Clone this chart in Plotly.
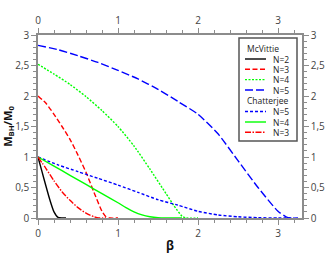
import plotly.graph_objects as go

# McVittie curves
mcv_n2_beta = [0, 0.05, 0.10, 0.15, 0.20, 0.25, 0.30, 0.35]
mcv_n2_m = [1.0, 0.76, 0.52, 0.29, 0.10, 0.01, 0.0, 0.0]

mcv_n3_beta = [0, 0.1, 0.2, 0.3, 0.4, 0.5, 0.6, 0.7, 0.8, 0.85, 0.9, 1.0]
mcv_n3_m = [2.0, 1.88, 1.70, 1.50, 1.29, 1.03, 0.75, 0.42, 0.11, 0.02, 0.0, 0.0]

mcv_n4_beta = [0, 0.2, 0.4, 0.6, 0.8, 1.0, 1.2, 1.4, 1.6, 1.7, 1.8, 1.85, 2.0]
mcv_n4_m = [2.52, 2.36, 2.19, 1.99, 1.76, 1.50, 1.18, 0.80, 0.40, 0.20, 0.03, 0.0, 0.0]

mcv_n5_beta = [0, 0.25, 0.5, 0.75, 1.0, 1.25, 1.5, 1.75, 2.0, 2.25, 2.5, 2.75, 3.0, 3.1, 3.15, 3.25]
mcv_n5_m = [2.83, 2.76, 2.66, 2.55, 2.42, 2.28, 2.11, 1.91, 1.70, 1.38, 0.94, 0.50, 0.11, 0.02, 0.0, 0.0]

# Chatterjee curves
cha_n5_beta = [0, 0.25, 0.5, 0.75, 1.0, 1.25, 1.5, 1.75, 2.0, 2.25, 2.5, 2.75, 3.0, 3.2]
cha_n5_m = [1.0, 0.87, 0.76, 0.65, 0.54, 0.42, 0.30, 0.21, 0.11, 0.05, 0.02, 0.005, 0.0, 0.0]

cha_n4_beta = [0, 0.2, 0.4, 0.6, 0.8, 1.0, 1.1, 1.2, 1.3, 1.4, 1.5, 1.6, 1.8]
cha_n4_m = [1.0, 0.85, 0.70, 0.55, 0.40, 0.25, 0.17, 0.10, 0.05, 0.02, 0.005, 0.0, 0.0]

cha_n3_beta = [0, 0.1, 0.2, 0.3, 0.4, 0.5, 0.6, 0.7, 0.76, 0.85]
cha_n3_m = [1.0, 0.81, 0.61, 0.43, 0.29, 0.17, 0.08, 0.02, 0.0, 0.0]

x_ticks = [0, 1, 2, 3]
y_ticks = [0, 0.5, 1, 1.5, 2, 2.5, 3]

FONT = "Open Sans"
AX_COLOR = "#8c8c8c"
TXT = "#444444"
GREEN = "#00ff00"

DASH_RED = "5px,2.5px"
DASH_DOT = "2px,1.5px"
DASH_LONG = "8px,3px"
DASH_SHORT = "3px,2px"
DASH_DASHDOT = "6px,1.5px,1.5px,1.5px"

series = [
    # (x, y, label, color, dash, group header)
    (mcv_n2_beta, mcv_n2_m, "N=2", "black", "solid", "McVittie"),
    (mcv_n3_beta, mcv_n3_m, "N=3", "red", DASH_RED, None),
    (mcv_n4_beta, mcv_n4_m, "N=4", GREEN, DASH_DOT, None),
    (mcv_n5_beta, mcv_n5_m, "N=5", "blue", DASH_LONG, None),
    (cha_n5_beta, cha_n5_m, "N=5", "blue", DASH_SHORT, "Chatterjee"),
    (cha_n4_beta, cha_n4_m, "N=4", GREEN, "solid", None),
    (cha_n3_beta, cha_n3_m, "N=3", "red", DASH_DASHDOT, None),
]

fig = go.Figure()
for x, y, name, color, dash, _ in series:
    fig.add_trace(go.Scatter(x=x, y=y, mode="lines", name=name, showlegend=False,
                             line=dict(color=color, dash=dash, width=1.4,
                                       shape="spline", smoothing=0.6)))

XR = [0, 3.3]
YR = [0, 3.0]

# plot area in pixels
L, R, T, B = 38, 34, 35, 36
W, H = 336, 254
PW, PH = W - L - R, H - T - B

def px(xp):
    return (xp - L) / PW

def py(yp):
    return (H - B - yp) / PH

axis_common = dict(
    showgrid=False, zeroline=False, showline=True, linecolor=AX_COLOR, linewidth=1.5,
    ticks="outside", ticklen=5, tickwidth=1, tickcolor=AX_COLOR, automargin=False,
    tickfont=dict(size=10, color=TXT, family=FONT),
)

# manual legend
shapes = [dict(type="rect", xref="paper", yref="paper",
               x0=px(239), x1=px(297), y0=py(141), y1=py(38),
               line=dict(color="#555555", width=1.5), fillcolor="white", layer="above")]
annotations = []
row_y = [48.5, 59, 69.3, 79.6, 90, 101, 111.5, 122, 132.3]
ri = 0
for x, y, name, color, dash, header in series:
    if header:
        annotations.append(dict(text=header, xref="paper", yref="paper", x=px(245.5), y=py(row_y[ri]),
                                xanchor="left", yanchor="middle", showarrow=False, borderpad=0,
                                font=dict(size=8.5, color="#222222", family=FONT)))
        ri += 1
    shapes.append(dict(type="line", xref="paper", yref="paper",
                       x0=px(245), x1=px(266), y0=py(row_y[ri]), y1=py(row_y[ri]),
                       line=dict(color=color, dash=dash, width=1.4), layer="above"))
    annotations.append(dict(text=name, xref="paper", yref="paper", x=px(271.5), y=py(row_y[ri]),
                            xanchor="left", yanchor="middle", showarrow=False, borderpad=0,
                            font=dict(size=8.5, color="#222222", family=FONT)))
    ri += 1

fig.update_layout(
    width=W, height=H,
    margin=dict(l=L, r=R, t=T, b=B),
    paper_bgcolor="white", plot_bgcolor="white",
    separators=", ",
    font=dict(family=FONT, color=TXT, size=10),
    xaxis=dict(range=XR, tickvals=x_ticks,
               minor=dict(dtick=0.2, ticks="outside", ticklen=3, tickcolor=AX_COLOR),
               title=dict(text="<b>β</b>", font=dict(size=12, color="#111111", family=FONT), standoff=6),
               **axis_common),
    yaxis=dict(range=YR, tickvals=y_ticks,
               minor=dict(dtick=0.1, ticks="outside", ticklen=3, tickcolor=AX_COLOR),
               title=dict(text="<b>M<sub>BH</sub>/M<sub>0</sub></b>", font=dict(size=11, color="#111111", family=FONT), standoff=4),
               **axis_common),
    xaxis2=dict(range=XR, overlaying="x", side="top", tickvals=x_ticks,
                minor=dict(dtick=0.2, ticks="outside", ticklen=3, tickcolor=AX_COLOR),
                **axis_common),
    yaxis2=dict(range=YR, overlaying="y", side="right", tickvals=y_ticks,
                minor=dict(dtick=0.1, ticks="outside", ticklen=3, tickcolor=AX_COLOR),
                **axis_common),
    shapes=shapes,
    annotations=annotations,
    showlegend=False,
)

# invisible trace so the secondary axes exist
fig.add_trace(go.Scatter(x=[None], y=[None], xaxis="x2", yaxis="y2", showlegend=False, hoverinfo="skip"))

fig.write_html("out.html", config={"displayModeBar": False},
               post_script="document.body.style.margin='0';document.body.style.overflow='hidden';")
